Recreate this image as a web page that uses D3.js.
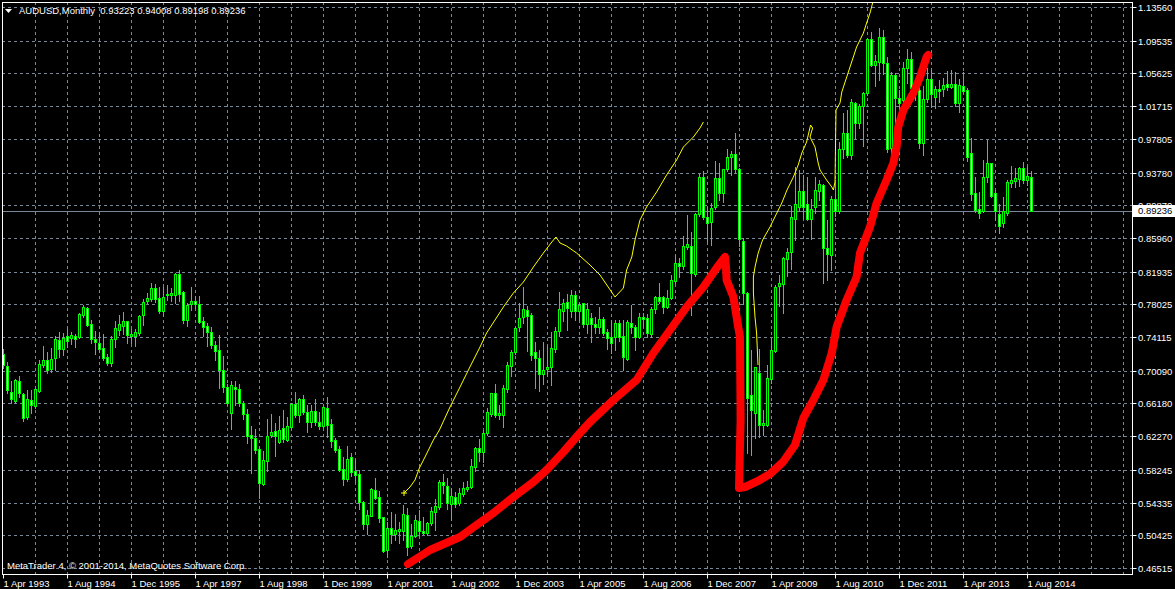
<!DOCTYPE html>
<html><head><meta charset="utf-8">
<script src="https://cdn.jsdelivr.net/npm/d3@7"></script>
<style>html,body{margin:0;padding:0;background:#000;overflow:hidden}svg{display:block}</style>
</head><body><svg id="c" width="1175" height="589"></svg>
<script>
const headerText = "AUDUSD,Monthly  0.93223 0.94008 0.89198 0.89236";
const copyright = "MetaTrader 4, \u00a9 2001-2014, MetaQuotes Software Corp.";
const lastPrice = 0.89236;

const open = [
.7206,.7066,.6752,.6652,.6887,.6731,.6460,.6660,.6592,.6767,
.7078,.7137,.7026,.7165,.7376,.7265,.7428,.7404,.7424,.7416,
.7675,.7755,.7564,.7388,.7336,.7281,.7169,.7106,.7385,.7496,
.7548,.7600,.7424,.7424,.7456,.7671,.7847,.7871,.7994,.7875,
.7727,.7910,.7910,.7914,.8169,.7950,.7616,.7803,.7847,.7803,
.7603,.7544,.7468,.7317,.7257,.7018,.6819,.6508,.6819,.6791,
.6620,.6492,.6241,.6201,.6069,.5655,.5934,.6241,.6289,.6161,
.6325,.6181,.6341,.6612,.6480,.6668,.6520,.6400,.6528,.6396,
.6349,.6564,.6373,.6181,.6077,.5838,.5711,.5974,.5807,.5775,
.5437,.5177,.5273,.5584,.5504,.5257,.4867,.5126,.5058,.5098,
.5098,.5285,.4915,.5034,.5213,.5098,.5066,.5185,.5325,.5377,
.5679,.5632,.5417,.5496,.5425,.5536,.5592,.5616,.5854,.6085,
.6042,.6265,.6492,.6740,.6480,.6480,.6787,.7066,.7233,.7536,
.7647,.7735,.7675,.7233,.7165,.6970,.7026,.7050,.7265,.7488,
.7727,.7835,.7727,.7914,.7727,.7815,.7568,.7635,.7568,.7536,
.7623,.7476,.7416,.7416,.7575,.7424,.7153,.7583,.7528,.7416,
.7655,.7635,.7448,.7743,.7895,.7895,.7767,.7875,.8086,.8293,
.8261,.8492,.8500,.8165,.8882,.9321,.8850,.8791,.8962,.9309,
.9130,.9425,.9560,.9600,.9416,.8563,.7942,.6719,.6508,.6986,
.6361,.6361,.6907,.7249,.8022,.8046,.8341,.8432,.8827,.8962,
.9157,.8998,.8827,.8962,.9157,.9225,.8472,.8392,.9062,.8922,
.9655,.9845,.9585,1.0213,.9966,1.0173,1.0324,1.0969,1.0662,1.0702,
1.0993,1.0682,.9667,1.0543,1.0264,1.0244,1.0623,1.0730,1.0396,1.0364,
.9727,1.0253,1.0491,1.0284,1.0380,1.0372,1.0432,1.0396,1.0432,1.0213,
1.0412,1.0364,.9608,.9130,.8938,.8922,.9321,.9488,.9130,.8882,
.8771,.8890,.9257,.9281,.9301,.9428,.9289,.93223];

const high = [
.7265,.7117,.6890,.6907,.6946,.6747,.6779,.6779,.6827,.7137,
.7305,.7233,.7281,.7424,.7472,.7456,.7504,.7472,.7448,.7703,
.7795,.7767,.7615,.7484,.7468,.7448,.7209,.7424,.7607,.7671,
.7711,.7607,.7504,.7504,.7675,.7863,.7942,.8062,.8046,.8006,
.8014,.8034,.7998,.8177,.8213,.7966,.7823,.8014,.7903,.7903,
.7647,.7575,.7528,.7368,.7436,.7185,.6851,.6887,.6887,.6851,
.6648,.6548,.6349,.6309,.6114,.6054,.6429,.6492,.6381,.6468,
.6540,.6460,.6628,.6755,.6680,.6719,.6600,.6600,.6668,.6520,
.6600,.6700,.6432,.6201,.6114,.5974,.6114,.6030,.5958,.5823,
.5456,.5345,.5604,.5723,.5576,.5265,.5198,.5317,.5297,.5205,
.5405,.5365,.5177,.5285,.5345,.5265,.5205,.5377,.5473,.5703,
.5775,.5723,.5604,.5564,.5604,.5683,.5696,.5958,.6101,.6189,
.6297,.6560,.6747,.6851,.6600,.6839,.7118,.7257,.7536,.7823,
.8014,.7783,.7695,.7356,.7257,.7356,.7305,.7476,.7528,.7950,
.7863,.7922,.7974,.7966,.7823,.7823,.7823,.7695,.7655,.7767,
.7655,.7504,.7616,.7616,.7616,.7616,.7616,.7795,.7556,.7695,
.7703,.7687,.7767,.7903,.8062,.7903,.7974,.8153,.8392,.8352,
.8620,.8870,.8671,.8890,.9361,.9400,.8962,.9010,.9512,.9492,
.9425,.9655,.9639,.9845,.9428,.8592,.7950,.7257,.7058,.7265,
.6540,.7078,.7396,.8034,.8153,.8372,.8472,.8978,.9448,.9408,
.9349,.9329,.9066,.9329,.9285,.9245,.8810,.9094,.9285,.9747,
1.0085,1.0125,1.0253,1.0224,1.0197,1.0344,1.0981,1.1061,1.0782,1.1101,
1.1085,1.0754,1.0583,1.0567,1.0364,1.0702,1.0850,1.0822,1.0484,1.0412,
1.0412,1.0623,1.0623,1.0412,1.0484,1.0503,1.0595,1.0603,1.0583,1.0491,
1.0575,1.0384,.9787,.9329,.9150,.9528,.9767,.9488,.9170,.9002,
.9090,.9289,.9456,.9428,.9440,.9500,.9440,.94008];

const low = [
.7038,.6740,.6620,.6620,.6692,.6412,.6432,.6508,.6560,.6751,
.7050,.6978,.6994,.7018,.7177,.7197,.7289,.7325,.7293,.7396,
.7655,.7544,.7344,.7209,.7229,.7137,.7074,.7066,.7293,.7436,
.7448,.7336,.7344,.7301,.7436,.7556,.7815,.7847,.7835,.7703,
.7663,.7855,.7847,.7815,.7847,.7583,.7544,.7735,.7755,.7575,
.7424,.7301,.7277,.7137,.6799,.6759,.6600,.6313,.6600,.6588,
.6429,.6149,.5790,.6022,.5492,.5644,.5815,.6213,.5990,.6141,
.6161,.6173,.6309,.6460,.6400,.6492,.6281,.6341,.6361,.6309,
.6341,.6221,.6101,.6042,.5815,.5644,.5691,.5751,.5679,.5353,
.5114,.5058,.5273,.5472,.5205,.4846,.4787,.4947,.4986,.4955,
.4986,.4807,.4887,.5018,.5046,.5058,.5046,.5161,.5110,.5353,
.5544,.5353,.5225,.5385,.5405,.5512,.5576,.5604,.5815,.5934,
.5922,.6241,.6468,.6460,.6429,.6341,.6759,.6942,.7213,.7488,
.7575,.7245,.7142,.6799,.6771,.6851,.6942,.6839,.7233,.7424,
.7607,.7496,.7655,.7616,.7616,.7536,.7464,.7356,.7456,.7464,
.7436,.7265,.7225,.7257,.7368,.7018,.7142,.7456,.7257,.7396,
.7536,.7416,.7408,.7703,.7823,.7703,.7755,.7863,.8054,.8133,
.8221,.8460,.7675,.8141,.8858,.8819,.8543,.8512,.8938,.9053,
.9030,.9400,.9349,.9385,.8500,.7807,.6022,.6002,.6201,.6221,
.6241,.6349,.6859,.7233,.7783,.7703,.8141,.8221,.8572,.8922,
.8831,.8810,.8580,.8890,.9053,.8062,.8094,.8213,.8858,.8898,
.9548,.9568,.9540,.9791,.9906,.9695,1.0304,1.0650,1.0412,1.0484,
1.0555,.9627,.9588,.9918,1.0006,1.0205,1.0444,1.0364,1.0244,.9667,
.9588,1.0224,1.0165,1.0146,1.0224,1.0292,1.0364,1.0384,1.0173,1.0105,
1.0324,.9520,.9050,.8910,.8831,.8910,.9269,.9082,.8810,.8659,
.8723,.8870,.9209,.9201,.9217,.9257,.9229,.89198];

const close = [
.7078,.6779,.6675,.6899,.6740,.6448,.6668,.6596,.6791,.7086,
.7143,.7018,.7153,.7385,.7269,.7400,.7368,.7432,.7392,.7687,
.7767,.7556,.7392,.7356,.7269,.7165,.7106,.7385,.7516,.7568,
.7600,.7436,.7448,.7476,.7663,.7831,.7875,.7994,.7871,.7727,
.7895,.7922,.7934,.8161,.7922,.7616,.7795,.7847,.7803,.7595,
.7536,.7476,.7317,.7249,.7018,.6811,.6620,.6835,.6795,.6620,
.6492,.6233,.6201,.6061,.5664,.5942,.6233,.6281,.6229,.6297,
.6189,.6349,.6612,.6480,.6672,.6520,.6400,.6532,.6400,.6349,
.6572,.6361,.6173,.6061,.5827,.5711,.5950,.5799,.5759,.5437,
.5177,.5285,.5596,.5492,.5245,.4855,.5126,.5058,.5106,.5114,
.5297,.4906,.5034,.5225,.5098,.5074,.5193,.5333,.5393,.5679,
.5644,.5425,.5512,.5417,.5552,.5604,.5624,.5874,.6089,.6042,
.6265,.6520,.6740,.6480,.6500,.6799,.7078,.7233,.7516,.7635,
.7743,.7663,.7197,.7157,.6970,.7018,.7058,.7277,.7488,.7743,
.7815,.7755,.7914,.7727,.7795,.7568,.7743,.7568,.7536,.7623,
.7464,.7396,.7344,.7583,.7416,.7169,.7591,.7528,.7416,.7655,
.7623,.7456,.7743,.7895,.7847,.7767,.7875,.8094,.8293,.8261,
.8500,.8520,.8181,.8882,.9321,.8843,.8771,.8950,.9309,.9130,
.9425,.9560,.9600,.9416,.8580,.7942,.6680,.6544,.7058,.6361,
.6389,.6919,.7257,.8006,.8054,.8352,.8432,.8843,.8998,.9157,
.8962,.8827,.8946,.9165,.9237,.8472,.8404,.9062,.8922,.9655,
.9845,.9585,1.0224,.9966,1.0173,1.0324,1.0969,1.0662,1.0714,1.0993,
1.0682,.9655,1.0543,1.0264,1.0213,1.0623,1.0730,1.0384,1.0356,.9727,
1.0253,1.0491,1.0316,1.0372,1.0356,1.0420,1.0396,1.0432,1.0213,1.0420,
1.0356,.9568,.9122,.8930,.8898,.9321,.9488,.9098,.8922,.8739,
.8922,.9269,.9289,.9309,.9428,.9289,.9337,.89236];

const xTickLabels = ["1 Apr 1993","1 Aug 1994","1 Dec 1995","1 Apr 1997","1 Aug 1998","1 Dec 1999",
  "1 Apr 2001","1 Aug 2002","1 Dec 2003","1 Apr 2005","1 Aug 2006","1 Dec 2007","1 Apr 2009",
  "1 Aug 2010","1 Dec 2011","1 Apr 2013","1 Aug 2014"];
const yTickValues = [1.13560,1.09535,1.05625,1.01715,0.97805,0.93780,0.89870,0.85960,0.81935,
  0.78025,0.74115,0.70090,0.66180,0.62270,0.58245,0.54335,0.50425,0.46515];

// hand-drawn annotations: [bar index, price]
const redLine = [[101.25,.4699],[106.75,.4867],[114.25,.5026],[118.4,.5165],[122.6,.5305],[127.6,.5504],
 [132.6,.5683],[135.9,.5823],[140.1,.6042],[144.25,.6261],[146.75,.6400],[152.6,.6659],[158.4,.6898],
 [162.6,.7217],[166.75,.7496],[170.9,.7774],[175.1,.8013],[178.4,.8233],[180.5,.8372],[180.75,.8252],
 [180.9,.8093],[182.6,.7894],[183.8,.7535],[184.25,.7416],[184.4,.6420],[184.0,.5608],[185.5,.5620],
 [188.75,.5691],[191.75,.5775],[195,.5918],[198,.6122],[200.1,.6441],[202.6,.6659],[205.1,.6898],
 [207.2,.7217],[208.4,.7535],[210.9,.7854],[213.4,.8133],[214.25,.8412],[216.75,.8730],[218.4,.9010],
 [220.9,.9288],[222.6,.9488],[223.4,.9687],[223.8,.9926],[225.1,1.0125],[227.6,1.0325],[229.25,1.0523],
 [230.9,1.0762],[231.3,1.0782]];
const yellowLine1 = [[100.25,.5544],[101.75,.5623],[103,.5703],[104.1,.5843],[105.5,.5982],[107.6,.6181],
 [109.1,.6301],[111.75,.6579],[114.25,.6818],[116.6,.7038],[119.25,.7296],[120.9,.7456],[123,.7615],
 [125.1,.7774],[127.6,.7934],[130.1,.8073],[132.6,.8252],[135.1,.8412],[137.2,.8551],[138.25,.8611],
 [139.25,.8539],[140.9,.8500],[143.4,.8412],[146.75,.8273],[149.25,.8153],[151.3,.8013],[153,.7894],
 [155.1,.7994],[155.9,.8213],[157.2,.8372],[158,.8571],[159.25,.8810],[160.9,.8969],[163.4,.9149],
 [165.9,.9348],[168.4,.9528],[170.1,.9687],[172.6,.9807],[174.25,.9907],[175.1,.9986]];
const yellowLine2 = [[188.75,.7078],[188.4,.7456],[188,.7655],[187.6,.7934],[187.6,.8133],[188,.8252],
 [188.8,.8412],[189.9,.8571],[191.75,.8730],[192.6,.8810],[194.7,.9010],[196,.9169],[197.6,.9328],
 [198.8,.9468],[199.7,.9608],[200.9,.9747],[201.9,.9946],[202.4,.9907],[201.75,.9807],[203,.9687],
 [203.8,.9488],[204.25,.9408],[205.9,.9289],[207.2,.9209],[207.6,.9169],[208,.9269],[208.25,1.0125],
 [209.25,1.0205],[209.7,1.0344],[211.75,1.0643],[213.4,1.0882],[215.1,1.1041],[215.9,1.1161],
 [216.75,1.1280],[217.6,1.1440]];

const W = 1175, H = 589;
const plot = {l: 2, r: 1132, t: 2, b: 574};
const FONT = "'Liberation Sans', Arial, sans-serif";
const GRID = "#778899";
const LIME = "#00ff00";

const x = d3.scaleLinear().domain([0, 1]).range([3, 7]);          // 4 px per bar
const y = d3.scaleLinear().domain([0.46515, 1.13560]).rangeRound([568, 7]);

const svg = d3.select("#c");
svg.append("rect").attr("width", W).attr("height", H).attr("fill", "#000");

const defs = svg.append("defs");
defs.append("clipPath").attr("id", "clip").append("rect")
  .attr("x", plot.l + 1).attr("y", plot.t + 1).attr("width", plot.r - plot.l - 1).attr("height", plot.b - plot.t - 1);

// grid
const gGrid = svg.append("g").attr("clip-path", "url(#clip)");
const vIdx = d3.range(8, 283, 8);
gGrid.selectAll("line.v").data(vIdx).join("line")
  .attr("x1", d => x(d) + 0.5).attr("x2", d => x(d) + 0.5)
  .attr("y1", plot.t).attr("y2", plot.b)
  .attr("stroke", GRID).attr("stroke-dasharray", "3,3");
gGrid.selectAll("line.h").data(yTickValues).join("line")
  .attr("x1", plot.l).attr("x2", plot.r)
  .attr("y1", d => y(d) + 0.5).attr("y2", d => y(d) + 0.5)
  .attr("stroke", GRID).attr("stroke-dasharray", "3,3");

// bid line
gGrid.append("line").attr("x1", plot.l).attr("x2", plot.r)
  .attr("y1", y(lastPrice) + 0.5).attr("y2", y(lastPrice) + 0.5).attr("stroke", GRID);

// candles
const bars = open.map((o, i) => ({i, o, h: high[i], l: low[i], c: close[i]}));
const gC = svg.append("g").attr("clip-path", "url(#clip)");
gC.selectAll("line.w").data(bars).join("line")
  .attr("x1", d => x(d.i) + 0.5).attr("x2", d => x(d.i) + 0.5)
  .attr("y1", d => y(d.h)).attr("y2", d => y(d.l) + 1)
  .attr("stroke", LIME);
gC.selectAll("rect.b").data(bars).join("rect")
  .attr("x", d => x(d.i) - 0.5)
  .attr("y", d => y(Math.max(d.o, d.c)) + 0.5)
  .attr("width", 2)
  .attr("height", d => Math.max(0, y(Math.min(d.o, d.c)) - y(Math.max(d.o, d.c))))
  .attr("fill", d => d.c < d.o ? "#ffffff" : "#000000")
  .attr("stroke", LIME).attr("stroke-width", 1);

// annotations
const line = d3.line().x(d => x(d[0])).y(d => y(d[1])).curve(d3.curveLinear);
const gA = svg.append("g").attr("clip-path", "url(#clip)");
gA.append("path").attr("d", line(yellowLine1)).attr("fill", "none").attr("stroke", "#ffff00").attr("stroke-width", 1);
gA.append("path").attr("d", line(yellowLine2)).attr("fill", "none").attr("stroke", "#ffff00").attr("stroke-width", 1);
const st = yellowLine1[0];
gA.append("path").attr("d", `M${x(st[0])-3},${y(st[1])}h6M${x(st[0])},${y(st[1])-3}v6`)
  .attr("stroke", "#ffff00").attr("stroke-width", 1);
gA.append("path").attr("d", line(redLine)).attr("fill", "none").attr("stroke", "#ff0000")
  .attr("stroke-width", 8).attr("stroke-linecap", "round").attr("stroke-linejoin", "round");

// frame
svg.append("rect").attr("x", plot.l + 0.5).attr("y", plot.t + 0.5)
  .attr("width", plot.r - plot.l).attr("height", plot.b - plot.t)
  .attr("fill", "none").attr("stroke", "#fff");

// x axis
const xAxis = d3.axisBottom(x).tickValues(d3.range(0, 257, 16))
  .tickFormat((d, i) => xTickLabels[i]).tickSize(4).tickSizeOuter(0);
const gx = svg.append("g").attr("transform", `translate(0,${plot.b + 0.5})`).call(xAxis);
gx.select(".domain").remove();
gx.selectAll(".tick line").attr("stroke", "#fff");
gx.selectAll(".tick text").attr("fill", "#fff").attr("font-family", FONT).attr("font-size", 9.5)
  .attr("text-anchor", "start").attr("x", 0).attr("y", 6).attr("dy", "0.71em");

// y axis
const yAxis = d3.axisRight(y).tickValues(yTickValues).tickFormat(d3.format(".5f")).tickSize(4).tickSizeOuter(0);
const gy = svg.append("g").attr("transform", `translate(${plot.r + 0.5},0)`).call(yAxis);
gy.select(".domain").remove();
gy.selectAll(".tick line").attr("stroke", "#fff");
gy.selectAll(".tick text").attr("fill", "#fff").attr("font-family", FONT).attr("font-size", 9.5)
  .attr("x", 5.5).attr("dy", "0.35em");

// current price label
const yp = y(lastPrice);
svg.append("rect").attr("x", plot.r + 1).attr("y", yp - 6).attr("width", W - plot.r - 1).attr("height", 12).attr("fill", "#fff");
svg.append("text").attr("x", plot.r + 6).attr("y", yp).attr("dy", "0.35em")
  .attr("font-family", FONT).attr("font-size", 9.5).attr("fill", "#000").text(d3.format(".5f")(lastPrice));

// header
svg.append("path").attr("d", "M5,9h7l-3.5,4z").attr("fill", "#fff");
svg.append("text").attr("x", 19).attr("y", 14).attr("font-family", FONT).attr("font-size", 9.5)
  .attr("fill", "#fff").attr("xml:space", "preserve").style("white-space", "pre").text(headerText);
svg.append("text").attr("x", 7).attr("y", 569).attr("font-family", FONT).attr("font-size", 9.5)
  .attr("fill", "#fff").text(copyright);
</script></body></html>
